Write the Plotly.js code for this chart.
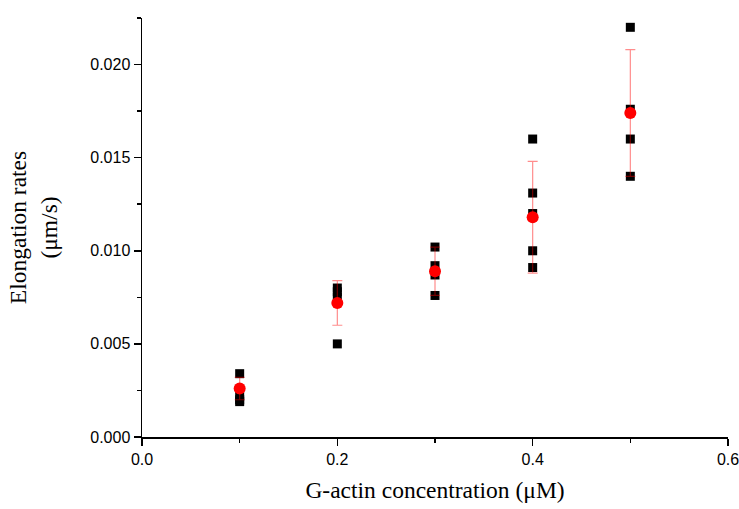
<!DOCTYPE html>
<html>
<head>
<meta charset="utf-8">
<script src="https://cdn.plot.ly/plotly-3.0.1.min.js"></script>
<style>html,body{margin:0;padding:0;background:#fff;}#chart{width:739px;height:509px;}</style>
</head>
<body>
<div id="chart"></div>
<script>
// Individual measurements (black squares)
const rawX = [0.1, 0.1, 0.1, 0.1,
              0.2, 0.2, 0.2, 0.2,
              0.3, 0.3, 0.3, 0.3,
              0.4, 0.4, 0.4, 0.4, 0.4,
              0.5, 0.5, 0.5, 0.5];
const rawY = [0.0034, 0.0022, 0.0020, 0.0019,
              0.0080, 0.0078, 0.0075, 0.0050,
              0.0102, 0.0092, 0.0087, 0.0076,
              0.0160, 0.0131, 0.0120, 0.0100, 0.0091,
              0.0220, 0.0176, 0.0160, 0.0140];
// Means with error bars (red circles)
const meanX = [0.1, 0.2, 0.3, 0.4, 0.5];
const meanY = [0.0026, 0.0072, 0.0089, 0.0118, 0.0174];
const errY  = [0.0006, 0.0012, 0.0013, 0.0030, 0.0034];

const xTicks = [0.0, 0.2, 0.4, 0.6];
const xTickText = ['0.0', '0.2', '0.4', '0.6'];
const yTicks = [0.000, 0.005, 0.010, 0.015, 0.020];
const yTickText = ['0.000', '0.005', '0.010', '0.015', '0.020'];

const traces = [
  {
    x: rawX, y: rawY, type: 'scatter', mode: 'markers',
    marker: {symbol: 'square', size: 9, color: '#000000'},
    showlegend: false, cliponaxis: false
  },
  {
    x: meanX, y: meanY, type: 'scatter', mode: 'markers',
    marker: {symbol: 'circle', size: 12, color: '#ff0000'},
    error_y: {type: 'data', array: errY, visible: true, color: 'rgba(255,0,0,0.45)', thickness: 1.2, width: 5},
    showlegend: false
  }
];

const axisFont = {family: 'Liberation Sans, Arial, sans-serif', size: 16, color: '#000'};
const titleFont = {family: 'Liberation Serif, Times New Roman, serif', size: 23.5, color: '#000'};

const layout = {
  width: 739, height: 509,
  margin: {l: 142, r: 11, t: 18, b: 72},
  paper_bgcolor: '#fff', plot_bgcolor: '#fff',
  showlegend: false,
  xaxis: {
    range: [0, 0.6],
    tickmode: 'array', tickvals: xTicks, ticktext: xTickText,
    ticklabeloverflow: 'allow',
    ticks: 'outside', ticklen: 7, tickwidth: 1.5, tickcolor: '#000',
    minor: {tickvals: [0.1, 0.3, 0.5], ticks: 'outside', ticklen: 4, tickwidth: 1.5, tickcolor: '#000'},
    showline: true, linecolor: '#000', linewidth: 1.5,
    showgrid: false, zeroline: false,
    tickfont: axisFont,
    title: {text: 'G-actin concentration (μM)', font: titleFont, standoff: 15}
  },
  yaxis: {
    range: [0, 0.0225],
    tickmode: 'array', tickvals: yTicks, ticktext: yTickText,
    ticks: 'outside', ticklen: 7, tickwidth: 1.5, tickcolor: '#000',
    minor: {tickvals: [0.0025, 0.0075, 0.0125, 0.0175, 0.0225], ticks: 'outside', ticklen: 4, tickwidth: 1.5, tickcolor: '#000'},
    showline: true, linecolor: '#000', linewidth: 1.5,
    showgrid: false, zeroline: false,
    tickfont: axisFont,
    title: {text: 'Elongation rates<br>(μm/s)', font: titleFont, standoff: 26}
  }
};

Plotly.newPlot('chart', traces, layout, {displayModeBar: false, staticPlot: true});
</script>
</body>
</html>
